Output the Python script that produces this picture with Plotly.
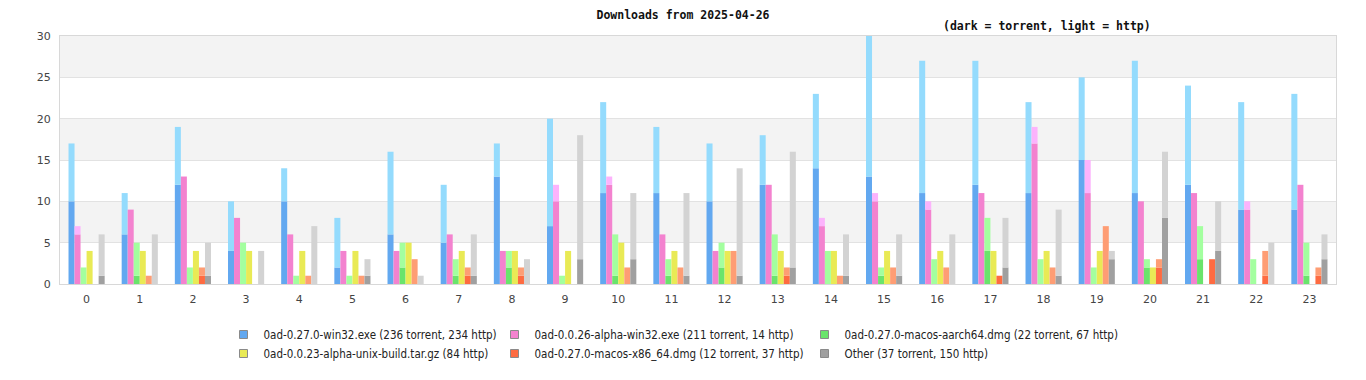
import plotly.graph_objects as go

hours = [str(h) for h in range(24)]

series_names = [
    "0ad-0.27.0-win32.exe (236 torrent, 234 http)",
    "0ad-0.0.26-alpha-win32.exe (211 torrent, 14 http)",
    "0ad-0.27.0-macos-aarch64.dmg (22 torrent, 67 http)",
    "0ad-0.0.23-alpha-unix-build.tar.gz (84 http)",
    "0ad-0.27.0-macos-x86_64.dmg (12 torrent, 37 http)",
    "Other (37 torrent, 150 http)",
]

# torrent downloads per hour
win32_torrent = [10, 6, 12, 4, 10, 2, 6, 5, 13, 7, 11, 11, 10, 12, 14, 13, 11, 12, 11, 15, 11, 12, 9, 9]
a26_torrent = [6, 9, 13, 8, 6, 4, 4, 6, 4, 10, 12, 6, 4, 12, 7, 10, 9, 11, 17, 11, 10, 11, 9, 12]
aarch_torrent = [0, 1, 0, 0, 0, 0, 2, 1, 2, 0, 1, 1, 2, 1, 0, 1, 0, 4, 0, 0, 2, 3, 0, 1]
unix_torrent = [0] * 24
x86_torrent = [0, 0, 1, 0, 0, 0, 0, 1, 1, 0, 0, 0, 0, 1, 0, 0, 0, 1, 0, 0, 2, 3, 1, 1]
other_torrent = [1, 0, 1, 0, 0, 1, 0, 1, 0, 3, 3, 1, 1, 2, 1, 1, 0, 2, 1, 3, 8, 4, 0, 3]

# http downloads per hour
win32_http = [7, 5, 7, 6, 4, 6, 10, 7, 4, 13, 11, 8, 7, 6, 9, 17, 16, 15, 11, 10, 16, 12, 13, 14]
a26_http = [1, 0, 0, 0, 0, 0, 0, 0, 0, 2, 1, 0, 0, 0, 1, 1, 1, 0, 2, 4, 0, 0, 1, 0]
aarch_http = [2, 4, 2, 5, 1, 1, 3, 2, 2, 1, 5, 2, 3, 5, 4, 1, 3, 4, 3, 2, 1, 4, 3, 4]
unix_http = [4, 4, 4, 4, 4, 4, 5, 4, 4, 4, 5, 4, 4, 4, 4, 4, 4, 4, 4, 4, 2, 0, 0, 0]
x86_http = [0, 1, 1, 0, 1, 1, 3, 1, 1, 0, 2, 2, 4, 1, 1, 2, 2, 0, 2, 7, 1, 0, 3, 1]
other_http = [5, 6, 4, 4, 7, 2, 1, 5, 3, 15, 8, 10, 13, 14, 5, 5, 6, 6, 8, 1, 8, 6, 5, 3]

torrents = [win32_torrent, a26_torrent, aarch_torrent, unix_torrent, x86_torrent, other_torrent]
https = [win32_http, a26_http, aarch_http, unix_http, x86_http, other_http]

dark_colors = ["#62a8f0", "#f382cf", "#6ae46c", "#e9ea55", "#fe6b41", "#a0a0a0"]
light_colors = ["#94dbfd", "#fcb3fc", "#a3ff9f", "#e9ea55", "#fe9d74", "#d3d3d3"]

legend_ids = ["legend", "legend2", "legend3", "legend", "legend2", "legend3"]

fig = go.Figure()

for i in range(6):
    fig.add_trace(go.Bar(
        x=hours, y=torrents[i], offsetgroup=str(i),
        marker=dict(color=dark_colors[i], line=dict(width=0)),
        showlegend=False, hoverinfo="x+y", name=series_names[i] + " torrent",
    ))
    fig.add_trace(go.Bar(
        x=hours, y=https[i], base=torrents[i], offsetgroup=str(i),
        marker=dict(color=light_colors[i], line=dict(width=0)),
        showlegend=False, hoverinfo="x+y", name=series_names[i] + " http",
    ))

for i in range(6):
    fig.add_trace(go.Scatter(
        x=[None], y=[None], mode="markers", name=series_names[i],
        marker=dict(symbol="square", size=8, color=dark_colors[i],
                    line=dict(color="#8a8a8a", width=1)),
        legend=legend_ids[i], showlegend=True,
    ))

# alternating background bands
for lo in [5, 15, 25]:
    fig.add_shape(type="rect", xref="paper", yref="y", x0=0, x1=1, y0=lo, y1=lo + 5,
                  fillcolor="#f3f3f3", line=dict(width=0), layer="below")

W, H = 1350, 364
leg_font = dict(family="DejaVu Sans Condensed", size=11.5, color="#222")
leg_common = dict(orientation="v", yanchor="top", xanchor="left",
                  yref="container", y=1 - 312 / H,
                  font=leg_font, bgcolor="rgba(0,0,0,0)", tracegroupgap=0,
                  itemwidth=30)

fig.update_layout(
    width=W, height=H,
    margin=dict(l=52, r=22, t=28, b=88),
    barmode="group", bargap=0.32, bargroupgap=0,
    plot_bgcolor="white", paper_bgcolor="white",
    font=dict(family="DejaVu Sans", size=11, color="#444"),
    title=dict(text="<b>Downloads from 2025-04-26</b>", x=0.5, xanchor="center",
               xref="container", yref="container", y=1 - 6.5 / H, yanchor="middle",
               font=dict(family="DejaVu Sans Mono", size=11.5, color="#111")),
    legend=dict(x=(223.5 - 60) / 1276, **leg_common),
    legend2=dict(x=(494.5 - 60) / 1276, **leg_common),
    legend3=dict(x=(804.5 - 60) / 1276, **leg_common),
    xaxis=dict(type="category", showgrid=False, showline=True, mirror=True,
               linecolor="#d8d8d8", linewidth=1, ticks="", ticklabelstandoff=5,
               tickfont=dict(size=11, color="#444"), fixedrange=True),
    yaxis=dict(range=[0, 30], tickvals=[0, 5, 10, 15, 20, 25, 30], showgrid=True,
               gridcolor="#e2e2e2", gridwidth=1, showline=True, mirror=True,
               linecolor="#d8d8d8", linewidth=1, zeroline=False, ticks="",
               ticklabelstandoff=6, tickfont=dict(size=11, color="#444"),
               fixedrange=True),
    annotations=[dict(text="<b>(dark = torrent, light = http)</b>", xref="paper", yref="paper",
                      x=(1047 - 60) / 1276, y=1 + 10 / 248, xanchor="center", yanchor="middle",
                      showarrow=False,
                      font=dict(family="DejaVu Sans Mono", size=11.5, color="#111"))],
)

fig.write_html("out.html")
